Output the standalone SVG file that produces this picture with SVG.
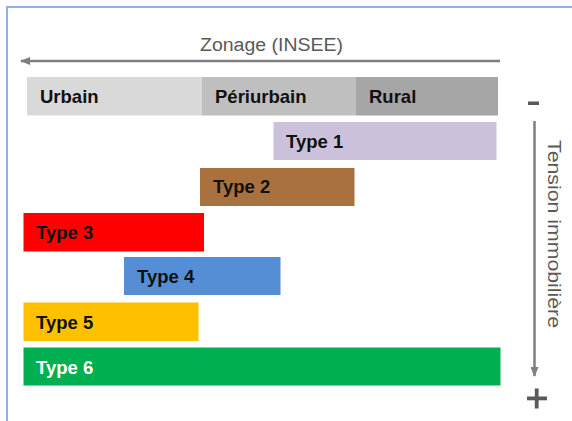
<svg xmlns="http://www.w3.org/2000/svg" width="572" height="421" viewBox="0 0 572 421">
<style>
.lbl{font-family:"Liberation Sans",Arial,sans-serif;font-weight:bold;font-size:18.5px;fill:#111111}
.axis{font-family:"Liberation Sans",Arial,sans-serif;font-size:18px;fill:#595959}
.conn{stroke:#7f7f7f;stroke-width:2.5;fill:none}
</style>
<defs>
<marker id="ah" markerWidth="10" markerHeight="8" refX="9" refY="4" orient="auto" markerUnits="userSpaceOnUse">
<path d="M0,0 L10,4 L0,8 Z" fill="#7f7f7f"/>
</marker>
</defs>
<rect width="572" height="421" fill="#ffffff"/>
<path d="M7,421 V7 H572" fill="none" stroke="#8eb4e3" stroke-width="2"/>
<g id="connectors">
<line class="conn" x1="500" y1="61" x2="21" y2="61" marker-end="url(#ah)"/>
<line class="conn" x1="534.5" y1="121" x2="534.5" y2="376" marker-end="url(#ah)"/>
</g>
<text class="axis" x="271.5" y="51" text-anchor="middle" textLength="143" lengthAdjust="spacingAndGlyphs">Zonage (INSEE)</text>
<text class="axis" transform="translate(548,140) rotate(90)" x="0" y="0" textLength="188" lengthAdjust="spacingAndGlyphs">Tension immobilière</text>
<rect x="528" y="101.5" width="11" height="3.5" fill="#595959"/>
<g fill="#595959"><rect x="527" y="396.5" width="20" height="3.8"/><rect x="534.8" y="388.5" width="3.8" height="20"/></g>
<g id="urbain"><rect x="27" y="77" width="175" height="38.5" fill="#d9d9d9"/><text class="lbl" x="40" y="103">Urbain</text></g>
<g id="periurbain"><rect x="202" y="77" width="154" height="38.5" fill="#bfbfbf"/><text class="lbl" x="215" y="103">Périurbain</text></g>
<g id="rural"><rect x="356" y="77" width="142" height="38.5" fill="#a6a6a6"/><text class="lbl" x="369" y="103">Rural</text></g>
<g id="type1"><rect x="273.5" y="122" width="223" height="38" fill="#ccc1da"/><text class="lbl" x="286" y="148">Type 1</text></g>
<g id="type2"><rect x="200" y="168" width="154.5" height="38" fill="#a9713e"/><text class="lbl" x="213" y="193">Type 2</text></g>
<g id="type3"><rect x="23.5" y="213" width="180.5" height="38.5" fill="#ff0000"/><text class="lbl" x="36" y="238.5">Type 3</text></g>
<g id="type4"><rect x="124" y="257" width="156.5" height="38" fill="#558ed5"/><text class="lbl" x="137" y="283">Type 4</text></g>
<g id="type5"><rect x="23.5" y="302.5" width="175" height="38.5" fill="#ffc000"/><text class="lbl" x="36" y="328.5">Type 5</text></g>
<g id="type6"><rect x="23.5" y="347.5" width="477" height="38" fill="#00b050"/><text class="lbl" x="36" y="373.5" style="fill:#ffffff">Type 6</text></g>
</svg>
